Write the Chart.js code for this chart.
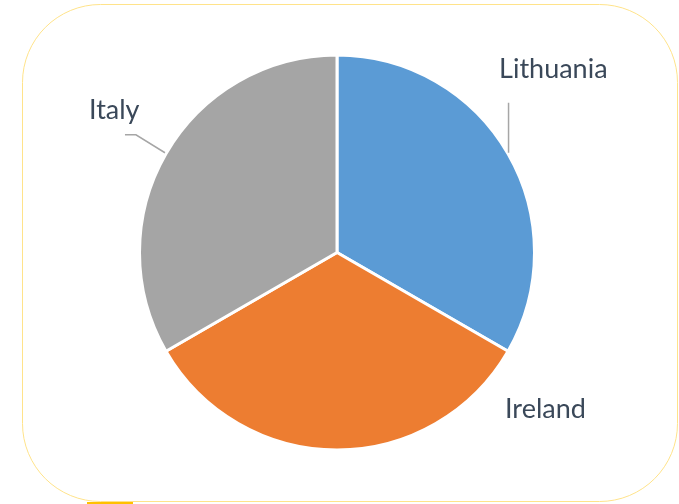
<!DOCTYPE html>
<html>
<head>
<meta charset="utf-8">
<script src="https://cdn.jsdelivr.net/npm/chart.js@4.4.1/dist/chart.umd.min.js"></script>
<style>
  html, body { margin: 0; padding: 0; background: #fff; }
  #wrap { width: 679px; height: 504px; position: relative; }
</style>
</head>
<body>
<div id="wrap"><canvas id="pie" width="679" height="504"></canvas></div>
<script>
const countries = ['Lithuania', 'Ireland', 'Italy'];
const shares = [33.3, 33.3, 33.3];
const sliceColors = ['#5B9BD5', '#ED7D31', '#A5A5A5'];

// where each label sits, relative to the point on the slice edge (dx, dy of text baseline start)
const labelStyle = {
  Lithuania: { leader: 'up', dx: -9, dy: -76 },
  Ireland:   { leader: null, dx: 168, dy: -32 },
  Italy:     { leader: 'left', dx: -77, dy: -35 }
};

// rounded frame + labels
const decor = {
  id: 'decor',
  beforeDraw(chart) {
    const ctx = chart.ctx;
    ctx.save();
    ctx.strokeStyle = '#FFE38A';
    ctx.lineWidth = 1;
    ctx.beginPath();
    ctx.roundRect(22.5, 4.5, 655, 497, 78);
    ctx.stroke();
    // small darker bit on the bottom edge
    ctx.strokeStyle = '#FFC000';
    ctx.lineWidth = 2;
    ctx.beginPath();
    ctx.moveTo(87, 503);
    ctx.lineTo(133, 503);
    ctx.stroke();
    ctx.restore();
  },
  afterDraw(chart) {
    const ctx = chart.ctx;
    const meta = chart.getDatasetMeta(0);
    ctx.save();
    ctx.font = '27px Lato, "Open Sans", sans-serif';
    ctx.fillStyle = '#3A4859';
    ctx.textBaseline = 'alphabetic';
    meta.data.forEach((arc, i) => {
      const name = countries[i];
      const st = labelStyle[name];
      const mid = (arc.startAngle + arc.endAngle) / 2;
      const px = arc.x + Math.cos(mid) * arc.outerRadius;
      const py = arc.y + Math.sin(mid) * arc.outerRadius;
      ctx.strokeStyle = '#A6A6A6';
      ctx.lineWidth = 1.5;
      if (st.leader === 'up') {
        ctx.beginPath();
        ctx.moveTo(px + 0.5, py - 1);
        ctx.lineTo(px + 0.5, py - 51);
        ctx.stroke();
      } else if (st.leader === 'left') {
        ctx.beginPath();
        ctx.moveTo(px - 1, py - 1);
        ctx.lineTo(px - 30, py - 19);
        ctx.lineTo(px - 41, py - 19);
        ctx.stroke();
      }
      ctx.fillText(name, px + st.dx, py + st.dy);
    });
    ctx.restore();
  }
};

new Chart(document.getElementById('pie'), {
  type: 'pie',
  data: {
    labels: countries,
    datasets: [{
      data: shares,
      backgroundColor: sliceColors,
      borderColor: '#ffffff',
      borderWidth: 3
    }]
  },
  options: {
    responsive: false,
    animation: false,
    layout: { padding: { top: 53, bottom: 52, left: 138, right: 143 } },
    plugins: { legend: { display: false }, tooltip: { enabled: false } }
  },
  plugins: [decor]
});
</script>
</body>
</html>
